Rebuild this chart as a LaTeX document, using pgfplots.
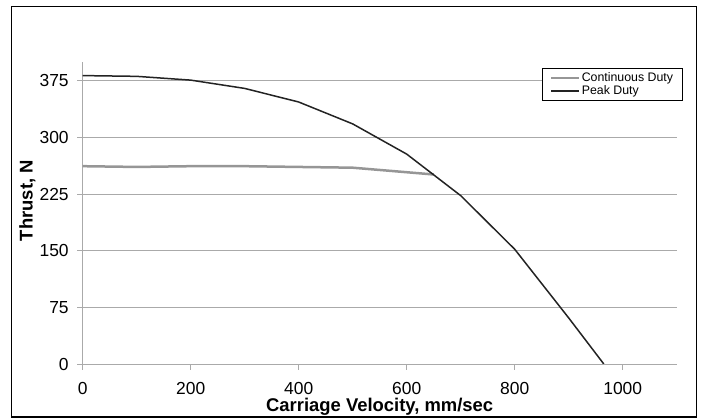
\documentclass[border=0pt]{standalone}
\usepackage{fontspec}
\setmainfont{Liberation Sans}
\usepackage{pgfplots}
\pgfplotsset{compat=1.18}
\definecolor{contgray}{RGB}{150,150,150}
\definecolor{peakdark}{RGB}{35,35,35}
\definecolor{gridgray}{RGB}{170,170,170}
\begin{document}
\begin{tikzpicture}
  % full picture area and outer frame
  \path[use as bounding box] (0bp,0bp) rectangle (704bp,418bp);
  \draw[black, line width=1.3bp] (11.7bp,1bp) rectangle (696.5bp,411.3bp);
  \begin{axis}[
    at={(82.7bp,54bp)},
    anchor=south west,
    scale only axis,
    width=594bp,
    height=302bp,
    xmin=0, xmax=1100,
    ymin=0, ymax=400,
    xtick={0,200,...,1000},
    ytick={0,75,...,375},
    axis lines=left,
    axis line style={-, draw=gridgray, line width=1bp},
    tick align=outside,
    major tick length=5.5bp,
    tick style={draw=gridgray, line width=0.8bp},
    ymajorgrids=true,
    grid style={draw=gridgray, line width=1bp},
    ticklabel style={font=\fontsize{17.5}{19}\selectfont},
    xticklabel style={yshift=-9bp},
    yticklabel style={xshift=-5bp},
    /pgf/number format/assume math mode=true,
    /pgf/number format/1000 sep={},
    xlabel={Carriage Velocity, mm/sec},
    ylabel={Thrust, N},
    label style={font=\bfseries\fontsize{18.5}{20}\selectfont},
    xlabel style={at={(axis description cs:0.5,-0.158)}, anchor=base},
    ylabel style={at={(axis description cs:-0.0842,0.541)}, anchor=base},
    legend style={
      at={(0.7727,0.979)}, anchor=north west,
      draw=black, line width=0.8bp,
      font=\fontsize{12.4}{13}\selectfont,
      inner xsep=8bp, inner ysep=3bp,
      row sep=0bp,
      nodes={inner sep=1.2bp},
    },
    legend cell align=left,
    legend image code/.code={\draw (0bp,0bp) -- (28bp,0bp);},
  ]
  \addplot[contgray, line width=2.5bp] coordinates {
    (0, 262) (100, 261) (200, 262) (300, 262) (400, 261) (500, 260) (650, 251)
  };
  \addlegendentry{Continuous Duty}
  \addplot[peakdark, line width=1.5bp] coordinates {
    (0, 382) (100, 381) (200, 376) (300, 365) (400, 347) (500, 318)
    (600, 278) (700, 223) (800, 152) (900, 61) (965, 0)
  };
  \addlegendentry{Peak Duty}
  \end{axis}
\end{tikzpicture}
\end{document}
